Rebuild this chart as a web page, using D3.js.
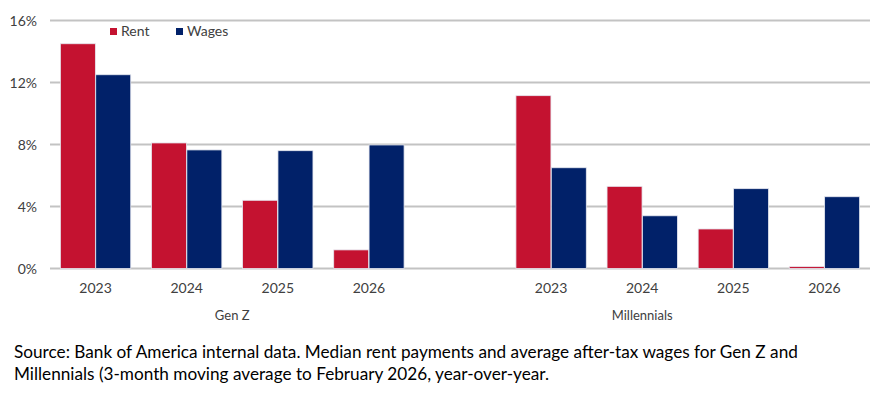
<!DOCTYPE html>
<html>
<head>
<meta charset="utf-8">
<script src="https://cdn.jsdelivr.net/npm/d3@7"></script>
<style>
  body { margin: 0; background: #fff; }
  svg text { font-family: Lato, "Open Sans", sans-serif; }
</style>
</head>
<body>
<div id="chart"></div>
<script>
// values, in %
const groups = ["Gen Z", "Millennials"];
const years = ["2023", "2024", "2025", "2026"];
const series = ["Rent", "Wages"];
const genZRent = [14.5, 8.1, 4.4, 1.2];
const genZWages = [12.5, 7.65, 7.6, 7.97];
const millRent = [11.15, 5.3, 2.55, 0.12];
const millWages = [6.5, 3.4, 5.15, 4.63];
const yTicks = [0, 4, 8, 12, 16];
const sourceLines = [
  "Source: Bank of America internal data. Median rent payments and average after-tax wages for Gen Z and",
  "Millennials (3-month moving average to February 2026, year-over-year."
];

const width = 885, height = 394;
const margin = { top: 20, right: 15, bottom: 126, left: 50 };

const svg = d3.select("#chart").append("svg")
  .attr("width", width)
  .attr("height", height);

// one band per year plus a blank band between the two groups
const slots = [];
years.forEach(y => slots.push("Gen Z|" + y));
slots.push("gap");
years.forEach(y => slots.push("Millennials|" + y));

const x = d3.scaleBand()
  .domain(slots)
  .range([margin.left, width - margin.right])
  .paddingInner(0.22)
  .paddingOuter(0.11);

const xSub = d3.scaleBand()
  .domain(series)
  .range([0, x.bandwidth()])
  .padding(0.01);

const y = d3.scaleLinear()
  .domain([0, 16])
  .range([height - margin.bottom + 0.5, margin.top + 0.5]);

const color = d3.scaleOrdinal().domain(series).range(["#C41230", "#012169"]);

// gridlines
svg.append("g")
  .selectAll("line")
  .data(yTicks)
  .join("line")
  .attr("x1", margin.left)
  .attr("x2", width - margin.right)
  .attr("y1", d => y(d))
  .attr("y2", d => y(d))
  .attr("stroke", "#c3c3c3")
  .attr("stroke-width", 2);

svg.append("g")
  .selectAll("text")
  .data(yTicks)
  .join("text")
  .attr("x", 37)
  .attr("y", d => y(d) + 5)
  .attr("text-anchor", "end")
  .attr("font-size", 14)
  .attr("fill", "#404040")
  .text(d => d + "%");

// bar data
const rows = [];
years.forEach((yr, i) => {
  rows.push({ slot: "Gen Z|" + yr, year: yr, Rent: genZRent[i], Wages: genZWages[i] });
});
years.forEach((yr, i) => {
  rows.push({ slot: "Millennials|" + yr, year: yr, Rent: millRent[i], Wages: millWages[i] });
});

const g = svg.append("g")
  .selectAll("g")
  .data(rows)
  .join("g")
  .attr("transform", d => "translate(" + x(d.slot) + ",0)");

g.selectAll("rect")
  .data(d => series.map(s => ({ key: s, value: d[s] })))
  .join("rect")
  .attr("x", d => xSub(d.key))
  .attr("width", xSub.bandwidth())
  .attr("y", d => y(d.value))
  .attr("height", d => y(0) - y(d.value))
  .attr("fill", d => color(d.key))
  .attr("stroke", "#e6e8f0")
  .attr("stroke-width", 0.8);

g.append("text")
  .attr("x", x.bandwidth() / 2)
  .attr("y", 293)
  .attr("text-anchor", "middle")
  .attr("font-size", 14)
  .attr("fill", "#404040")
  .text(d => d.year);

// group labels; the blank band counts towards the second group
const spans = {
  "Gen Z": [x("Gen Z|" + years[0]), x("Gen Z|" + years[3]) + x.bandwidth()],
  "Millennials": [x("gap"), x("Millennials|" + years[3]) + x.bandwidth()]
};
groups.forEach(grp => {
  svg.append("text")
    .attr("x", (spans[grp][0] + spans[grp][1]) / 2)
    .attr("y", 320)
    .attr("text-anchor", "middle")
    .attr("font-size", 13)
    .attr("fill", "#404040")
    .text(grp);
});

// legend
const legend = svg.append("g")
  .selectAll("g")
  .data(series)
  .join("g")
  .attr("transform", (d, i) => "translate(" + (110 + i * 66) + ",28)");

legend.append("rect")
  .attr("width", 7)
  .attr("height", 7)
  .attr("fill", d => color(d));

legend.append("text")
  .attr("x", 11)
  .attr("y", 8)
  .attr("font-size", 14)
  .attr("fill", "#404040")
  .text(d => d);

// source note
svg.append("g")
  .selectAll("text")
  .data(sourceLines)
  .join("text")
  .attr("x", 14)
  .attr("y", (d, i) => 358 + i * 22)
  .attr("font-size", 17.2)
  .attr("fill", "#000")
  .text(d => d);
</script>
</body>
</html>
